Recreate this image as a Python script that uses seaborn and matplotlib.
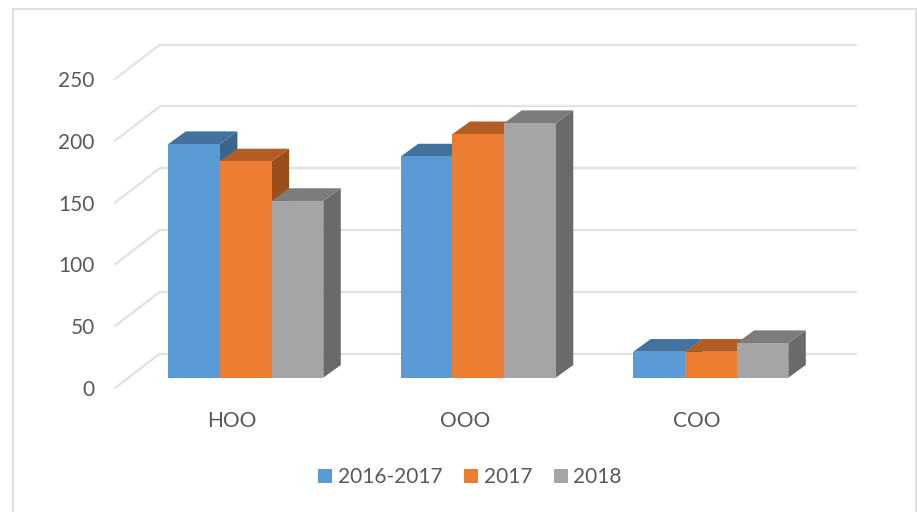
import matplotlib
matplotlib.use('Agg')
import matplotlib.pyplot as plt
from matplotlib.lines import Line2D
from matplotlib.patches import Polygon
from matplotlib.transforms import Affine2D, IdentityTransform, blended_transform_factory
import pandas as pd
import seaborn as sns

categories = ['HOO', 'OOO', 'COO']
series_names = ['2016-2017', '2017', '2018']
values_2016 = [189, 179, 21]
values_2017 = [175, 197, 21]
values_2018 = [143, 206, 28]
y_ticks = [0, 50, 100, 150, 200, 250]

front_colors = ['#5B9BD5', '#ED7D31', '#A5A5A5']
top_colors = ['#42739F', '#B15D23', '#7C7C7C']
side_colors = ['#3A668E', '#9A4F1B', '#6A6A6A']
text_color = '#595959'
line_color = '#E3E3E3'

W, H = 917, 512
DX, DY = 17.5, 12.7   # depth of a bar, in pixels

df = pd.DataFrame({
    'category': categories * 3,
    'series': [s for s in series_names for _ in categories],
    'value': values_2016 + values_2017 + values_2018,
})

sns.set_theme(style='white')
plt.rcParams['font.family'] = ['Lato', 'DejaVu Sans']

fig = plt.figure(figsize=(W / 100, H / 100), dpi=100)
fig.patch.set_facecolor('white')
ax = fig.add_axes([129.5 / W, (H - 377.7) / H, 697.5 / W, 309 / H])
ax.patch.set_alpha(0)

sns.barplot(data=df, x='category', y='value', hue='series', palette=front_colors,
            saturation=1, width=0.667, gap=0, linewidth=0, ax=ax, zorder=3)
ax.set_xlim(-0.5, 2.5)
ax.set_ylim(0, 250)
ax.set_xlabel('')
ax.set_ylabel('')
sns.despine(ax=ax, left=True, bottom=True)

# back wall gridlines plus the diagonal side wall
px_y = blended_transform_factory(IdentityTransform(), ax.transData)
for v in y_ticks:
    back = px_y + Affine2D().translate(0, 24.2)
    ax.plot([160, 857], [v, v], color=line_color, lw=1.7, transform=back,
            clip_on=False, zorder=1, solid_capstyle='butt')
    p0 = px_y.transform((115, v)) + (0, -10.3)
    p1 = px_y.transform((160, v)) + (0, 24.2)
    ax.plot([p0[0], p1[0]], [p0[1], p1[1]], color=line_color, lw=1.7,
            transform=IdentityTransform(), clip_on=False, zorder=1)

# fake the 3d depth, one series after the other so later ones overlap
fig.canvas.draw()
for i, container in enumerate(ax.containers):
    for bar in container:
        x0, y0 = ax.transData.transform((bar.get_x(), 0))
        x1, y1 = ax.transData.transform((bar.get_x() + bar.get_width(), bar.get_height()))
        side = [(x1, y0), (x1 + DX, y0 + DY), (x1 + DX, y1 + DY), (x1, y1)]
        top = [(x0, y1), (x1, y1), (x1 + DX, y1 + DY), (x0 + DX, y1 + DY)]
        ax.add_patch(Polygon(side, closed=True, fc=side_colors[i], ec='none',
                             transform=IdentityTransform(), clip_on=False, zorder=2))
        ax.add_patch(Polygon(top, closed=True, fc=top_colors[i], ec='none',
                             transform=IdentityTransform(), clip_on=False, zorder=2))

ax.set_yticks(y_ticks)
ax.set_xticks(range(len(categories)))
ax.set_xticklabels(categories)
ax.tick_params(axis='y', length=0, pad=25, labelsize=15, labelcolor=text_color)
ax.tick_params(axis='x', length=0, pad=24, labelsize=15, labelcolor=text_color)
for label in ax.get_yticklabels():
    label.set_transform(label.get_transform() + Affine2D().translate(0, -10.3))
for label in ax.get_xticklabels():
    label.set_transform(label.get_transform() + Affine2D().translate(-13.5, 0))

handles, labels = ax.get_legend_handles_labels()
ax.legend(handles, labels, loc='center', bbox_to_anchor=(470 / W, (H - 477) / H),
          bbox_transform=fig.transFigure, ncol=3, frameon=False, fontsize=15,
          labelcolor=text_color, handlelength=0.67, handleheight=0.67,
          handletextpad=0.26, columnspacing=1.05, borderpad=0)

# chart area border, the bottom edge is cut off in the original
for xs, ys in [([13, 13], [0, H - 8.5]), ([13, 916], [H - 8.5, H - 8.5]), ([916, 916], [H - 8.5, 0])]:
    fig.add_artist(Line2D(xs, ys, color='#DCDCDC', lw=1.3, transform=IdentityTransform()))

fig.savefig('out.png', dpi=100)
